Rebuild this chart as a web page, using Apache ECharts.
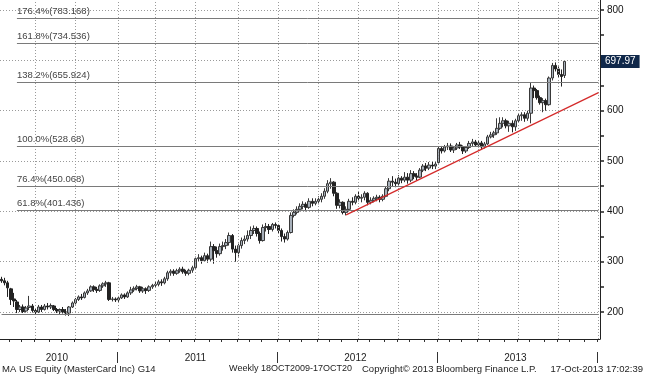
<!DOCTYPE html>
<html>
<head>
<meta charset="utf-8">
<script src="https://cdn.jsdelivr.net/npm/echarts@6/dist/echarts.min.js"></script>
<style>
  html, body {margin: 0; padding: 0; background: #fff;}
  #chart {width: 645px; height: 376px;}
</style>
</head>
<body>
<div id="chart"></div>
<script>
// weekly bars, first one is the week ending 16-Apr-2010
const firstWeek = '2010-04-16';
const padWeeks = 11;

// [open, close, low, high]
const bars2010 = [
  [265,262,258,270],[262,258,253,268],[258,248,230,262],[246,225,214,248],[226,222,210,238],
  [220,205,198,224],[205,210,200,214],[210,201,198,215],[202,208,199,212],[209,212,204,232],
  [212,203,199,216],[203,200,196,206],[200,210,198,214],[210,205,200,214],[205,212,203,216],
  [212,210,205,218],[210,213,206,217],[212,205,202,214],[205,202,198,208],[202,205,196,207],
  [205,200,197,210],[200,198,193,206],[198,210,192,212],[210,218,208,221],[218,225,215,228],
  [225,230,222,233],[230,228,224,236],[229,238,227,241],[238,242,234,246],[242,250,240,253],
  [250,245,240,253],[245,243,238,250],[243,252,240,255],[252,256,248,259],[256,258,250,262],
  [258,225,222,260],[225,226,221,230],[226,224,220,229]
];
const bars2011 = [
  [224,228,220,232],[228,234,226,237],[234,230,226,237],[230,238,228,241],[238,244,234,250],
  [244,247,240,251],[247,250,243,254],[250,242,238,252],[242,246,238,250],[246,243,236,249],
  [243,250,240,253],[250,253,246,256],[253,255,249,260],[255,260,251,264],[260,258,252,265],
  [258,266,255,270],[266,278,262,282],[278,281,272,285],[281,277,272,285],[277,282,274,286],
  [282,285,278,289],[285,280,276,290],[280,277,272,284],[277,283,273,286],[283,288,278,292],
  [288,306,286,310],[306,308,300,315],[308,302,296,312],[302,312,300,318],[312,305,298,316],
  [305,330,300,340],[330,322,296,335],[322,316,308,330],[316,330,312,336],[330,332,322,340],
  [332,338,325,345],[338,352,332,358],[352,325,318,355],[325,318,300,332],[318,332,310,336],
  [332,342,326,348],[342,345,335,352],[345,352,340,362],[352,362,345,370],[362,366,355,372],
  [366,356,350,370],[356,342,336,360],[342,368,340,374],[368,370,360,377],[370,364,355,375],
  [364,374,360,377],[374,372,366,378]
];
const bars2012 = [
  [372,362,355,375],[362,350,340,366],[350,345,338,356],[345,358,342,362],[358,392,356,398],
  [392,398,388,404],[398,404,394,410],[404,410,400,416],[410,414,404,420],[414,408,400,418],
  [408,420,405,426],[420,416,410,426],[416,420,412,426],[420,424,414,430],[424,430,418,436],
  [430,440,425,446],[440,455,436,462],[455,458,445,466],[458,436,430,460],[436,412,405,438],
  [412,418,406,424],[418,398,394,420],[398,404,392,410],[404,420,400,425],[420,418,412,428],
  [418,430,414,434],[430,426,420,440],[426,428,418,434],[428,436,422,440],[436,418,412,438],
  [418,422,414,428],[422,426,418,430],[426,428,420,433],[428,424,418,432],[424,430,420,434],
  [430,445,428,450],[445,460,440,466],[460,458,450,470],[458,455,448,465],[455,466,452,472],
  [466,462,456,470],[462,468,458,478],[468,462,455,476],[462,475,458,482],[475,470,464,480],
  [470,468,462,476],[468,482,466,486],[482,490,478,494],[490,486,480,496],[486,492,482,498],
  [492,490,484,500],[490,494,484,500]
];
const bars2013 = [
  [497,525,495,528],[525,520,515,530],[520,528,517,532],[528,530,522,536],[530,522,518,535],
  [522,526,516,530],[526,532,522,536],[532,528,524,538],[528,520,514,531],[520,527,516,530],
  [527,535,524,540],[535,538,530,544],[538,532,528,542],[532,536,527,541],[536,528,522,540],
  [528,534,525,538],[534,548,532,552],[548,552,545,558],[552,556,546,560],[556,565,552,585],
  [565,575,562,587],[575,580,567,587],[580,570,565,584],[570,575,558,580],[575,568,557,581],
  [568,580,560,584],[580,590,577,595],[590,592,580,597],[592,585,578,597],[585,595,580,600],
  [595,645,575,655],[645,640,625,650],[640,626,622,643],[626,616,612,630],[616,620,597,625],
  [620,612,600,624],[612,665,610,668],[665,690,660,695],[690,683,678,696],[683,672,665,688],
  [672,668,648,682],[670,697.97,665,700]
];

// fibonacci retracement levels
const fibNames = ['176.4%(783.168)', '161.8%(734.536)', '138.2%(655.924)', '100.0%(528.68)', '76.4%(450.068)', '61.8%(401.436)', ''];
const fibValues = [783.168, 734.536, 655.924, 528.68, 450.068, 401.436, 195.58];
const fibStartWeek = ['2010-05-21', '2010-05-21', '2010-05-21', '2010-05-21', '2010-05-21', '2010-05-21', '2010-04-16'];

const trendStart = ['2012-06-08', 393];
const trendEnd = ['2014-01-03', 636];
const lastPrice = 697.97;

const yMin = 146.4, yMax = 820;
const yTicks = [200, 250, 300, 350, 400, 450, 500, 550, 600, 650, 700, 750, 800];
const yLabels = [200, 300, 400, 500, 600, 800];
const yGrid = [200, 300, 400, 500, 600, 700, 800];
const yearLabelWeeks = ['2010-08-20', '2011-07-01', '2012-06-29', '2013-06-28'];

const bars = [].concat(bars2010, bars2011, bars2012, bars2013);
const weeks = [];
let t = Date.parse(firstWeek + 'T00:00:00Z');
for (let i = 0; i < bars.length + padWeeks; i++) {
  weeks.push(new Date(t).toISOString().slice(0, 10));
  t += 7 * 86400000;
}
const lastWeek = weeks[weeks.length - 1];

// week positions: left edge of week i is i on the value axes
const dayOf = v => +v.slice(8, 10);
const monthOf = v => +v.slice(5, 7);
const monthStarts = [], quarterStarts = [], yearStarts = [];
weeks.forEach((w, i) => {
  if (dayOf(w) > 7) return;
  monthStarts.push(i);
  if ((monthOf(w) - 1) % 3 === 0) quarterStarts.push(i);
  if (monthOf(w) === 1) yearStarts.push(i);
});
const yearLabelPos = yearLabelWeeks.map(w => weeks.indexOf(w) + 0.5);

const font = 'Liberation Sans';
const chart = echarts.init(document.getElementById('chart'));

const dotted = {color: '#9a9a9a', width: 1, type: [1, 2]};

const option = {
  animation: false,
  backgroundColor: '#fff',
  grid: {left: 0, right: 45, top: 0, bottom: 37},
  xAxis: [{
    type: 'category',
    data: weeks,
    boundaryGap: true,
    axisLine: {show: false},
    axisTick: {show: false},
    axisLabel: {show: false},
    splitLine: {show: false}
  }, {
    // month ticks
    type: 'value',
    min: 0,
    max: weeks.length,
    position: 'bottom',
    axisLine: {show: true, onZero: false, lineStyle: {color: '#222', width: 1}},
    axisTick: {show: true, length: 3, customValues: monthStarts, lineStyle: {color: '#333'}},
    axisLabel: {show: true, customValues: monthStarts, formatter: () => ''},
    splitLine: {show: false}
  }, {
    // year row with separators
    type: 'value',
    min: 0,
    max: weeks.length,
    position: 'bottom',
    offset: 13,
    axisLine: {show: false, onZero: false},
    axisTick: {show: true, length: 11, customValues: yearStarts, lineStyle: {color: '#333'}},
    axisLabel: {
      show: true,
      customValues: yearLabelPos,
      formatter: v => weeks[Math.floor(v)].slice(0, 4),
      margin: 1, color: '#222', fontSize: 10, fontFamily: font
    },
    splitLine: {show: false}
  }],
  yAxis: {
    type: 'value',
    position: 'right',
    min: yMin,
    max: yMax,
    axisLine: {show: true, onZero: false, lineStyle: {color: '#222'}},
    axisTick: {show: true, length: 4, customValues: yTicks, lineStyle: {color: '#222', width: 1.5}},
    axisLabel: {customValues: yLabels, margin: 7, color: '#111', fontSize: 10, fontFamily: font},
    splitLine: {show: false}
  },
  series: [{
    // dotted grid + bottom axis line, on the week categories
    name: 'grid',
    type: 'line',
    data: [],
    markLine: {
      silent: true,
      symbol: ['none', 'none'],
      lineStyle: dotted,
      label: {show: false},
      data: quarterStarts.map(i => ({xAxis: weeks[i]}))
        .concat(yGrid.map(v => ({yAxis: v})))
        .concat([{yAxis: yMin, lineStyle: {color: '#222', width: 1, type: 'solid'}}])
    }
  }, {
    name: 'fib',
    type: 'line',
    data: [],
    markLine: {
      silent: true,
      symbol: ['none', 'none'],
      lineStyle: {color: '#7a7a7a', width: 1, type: 'solid'},
      label: {show: true, position: 'insideStartTop', formatter: '{b}', distance: [0, 2],
        color: '#444', fontSize: 9.5, fontFamily: font},
      data: fibValues.map((v, i) => [
        {name: fibNames[i], coord: [fibStartWeek[i], v]},
        {coord: [lastWeek, v]}
      ])
    }
  }, {
    name: 'MA',
    type: 'candlestick',
    data: bars,
    barWidth: 3,
    itemStyle: {
      color: '#a7b0ba',
      color0: '#222',
      borderColor: '#383838',
      borderColor0: '#222',
      borderWidth: 1
    },
    markLine: {
      silent: true,
      symbol: ['none', 'none'],
      lineStyle: {color: '#d42a2a', width: 1.2, type: 'solid'},
      label: {show: false},
      data: [[{coord: trendStart}, {coord: trendEnd}]]
    }
  }, {
    name: 'last',
    type: 'line',
    data: [],
    clip: false,
    z: 10,
    markLine: {
      silent: true,
      symbol: ['none', 'none'],
      lineStyle: {color: 'rgba(0,0,0,0)', width: 0},
      label: {show: true, position: 'end', distance: 1, formatter: '{c}',
        backgroundColor: '#10284a', color: '#fff', padding: [2, 4, 1, 4],
        fontSize: 10, fontFamily: font},
      data: [{yAxis: lastPrice}]
    }
  }],
  graphic: [
    {type: 'text', left: 2, top: 364, style: {text: 'MA US Equity (MasterCard Inc) G14', font: '9.5px "Liberation Sans"', fill: '#222'}},
    {type: 'text', x: 352, y: 364, style: {text: 'Weekly 18OCT2009-17OCT20', font: '9px "Liberation Sans"', fill: '#222', align: 'right'}},
    {type: 'text', left: 362, top: 364, style: {text: 'Copyright\u00a9 2013 Bloomberg Finance L.P.', font: '9.5px "Liberation Sans"', fill: '#222'}},
    {type: 'text', right: 2, top: 364, style: {text: '17-Oct-2013 17:02:39', font: '9.5px "Liberation Sans"', fill: '#222'}}
  ]
};

chart.setOption(option);
</script>
</body>
</html>
